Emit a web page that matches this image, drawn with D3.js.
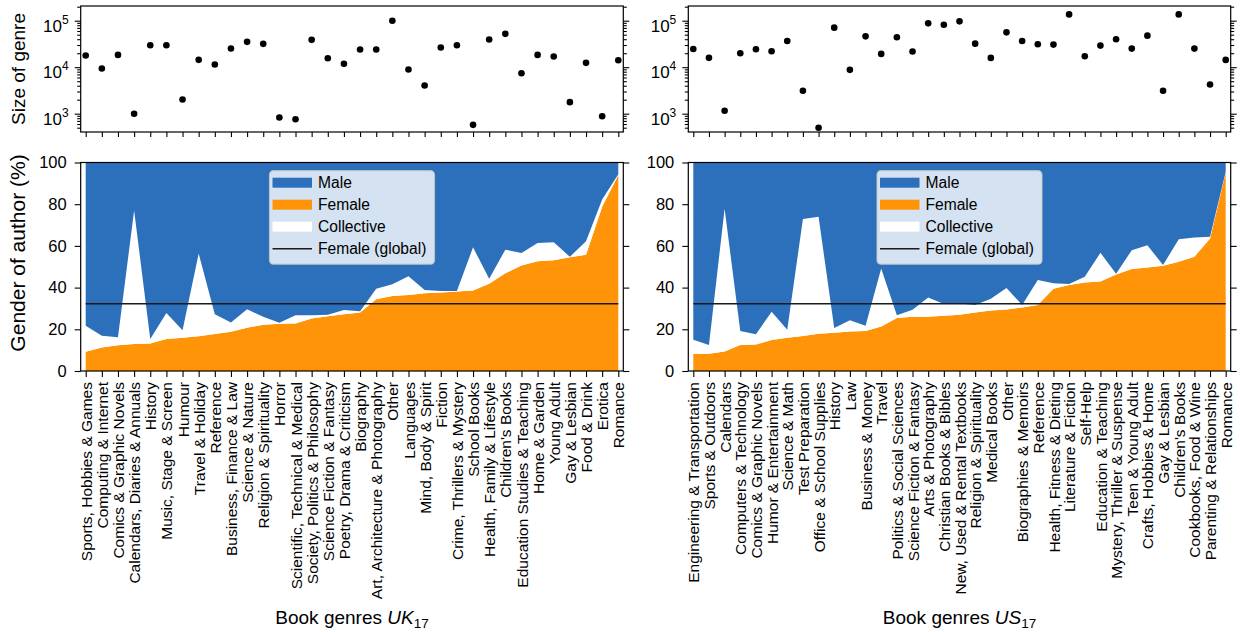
<!DOCTYPE html>
<html>
<head>
<meta charset="utf-8">
<script src="https://cdn.jsdelivr.net/npm/d3@7"></script>
<style>
  body { margin: 0; background: #fff; }
  svg { display: block; font-family: "Liberation Sans", Arial, sans-serif; }
</style>
</head>
<body>
<svg id="chart" width="1240" height="632"></svg>
<script>
// ---- UK 2017 genres (sorted by share of female authors) ----
const ukGenres = [
  "Sports, Hobbies & Games", "Computing & Internet", "Comics & Graphic Novels",
  "Calendars, Diaries & Annuals", "History", "Music, Stage & Screen", "Humour",
  "Travel & Holiday", "Reference", "Business, Finance & Law", "Science & Nature",
  "Religion & Spirituality", "Horror", "Scientific, Technical & Medical",
  "Society, Politics & Philosophy", "Science Fiction & Fantasy", "Poetry, Drama & Criticism",
  "Biography", "Art, Architecture & Photography", "Other", "Languages",
  "Mind, Body & Spirit", "Fiction", "Crime, Thrillers & Mystery", "School Books",
  "Health, Family & Lifestyle", "Children's Books", "Education Studies & Teaching",
  "Home & Garden", "Young Adult", "Gay & Lesbian", "Food & Drink", "Erotica", "Romance"
];
const ukFemale = [9.2, 11.3, 12.4, 12.9, 13.2, 15.4, 15.9, 16.7, 17.8, 18.8, 20.7, 22.2,
  22.7, 22.8, 25.2, 26.2, 27.2, 28.1, 34.4, 36.0, 36.5, 37.3, 37.6, 38.1, 38.6, 41.8,
  46.9, 50.6, 52.6, 53.1, 54.5, 55.8, 78.8, 94.0];
const ukCollective = [12.5, 5.6, 3.8, 64.1, 2.2, 12.4, 3.7, 39.6, 9.4, 4.5, 8.9, 3.8,
  0.5, 3.9, 1.5, 0.8, 2.1, 0.5, 5.1, 5.6, 9.0, 1.6, 0.8, 0.3, 20.7, 2.4,
  11.3, 6.0, 8.8, 8.6, 0.3, 6.4, 3.5, 0.4];
const ukSize = [17800, 9400, 18400, 1000, 29700, 29700, 2020, 14400, 11400, 25200, 35100, 31800,
  830, 760, 38700, 15600, 11800, 24000, 24000, 100000, 8910, 4030, 26500, 29700, 576, 39300,
  52100, 7430, 18400, 17000, 1770, 12400, 883, 14100];
const ukFemaleGlobal = 32.3;

// ---- US 2017 genres ----
const usGenres = [
  "Engineering & Transportation", "Sports & Outdoors", "Calendars", "Computers & Technology",
  "Comics & Graphic Novels", "Humor & Entertainment", "Science & Math", "Test Preparation",
  "Office & School Supplies", "History", "Law", "Business & Money", "Travel",
  "Politics & Social Sciences", "Science Fiction & Fantasy", "Arts & Photography",
  "Christian Books & Bibles", "New, Used & Rental Textbooks", "Religion & Spirituality",
  "Medical Books", "Other", "Biographies & Memoirs", "Reference", "Health, Fitness & Dieting",
  "Literature & Fiction", "Self-Help", "Education & Teaching", "Mystery, Thriller & Suspense",
  "Teen & Young Adult", "Crafts, Hobbies & Home", "Gay & Lesbian", "Children's Books",
  "Cookbooks, Food & Wine", "Parenting & Relationships", "Romance"
];
const usFemale = [8.3, 8.3, 9.4, 12.5, 12.7, 14.9, 15.9, 16.8, 17.9, 18.3, 19.0, 19.2, 21.4,
  25.4, 26.0, 26.0, 26.5, 27.0, 28.1, 29.0, 29.5, 30.5, 31.6, 39.5, 41.3, 42.5, 42.9, 46.3,
  48.9, 49.7, 50.5, 52.4, 54.8, 63.5, 95.2];
const usCollective = [6.7, 4.2, 68.4, 6.7, 4.9, 13.5, 3.9, 56.1, 56.1, 2.3, 5.4, 2.5, 27.8,
  1.3, 3.4, 9.2, 5.6, 5.4, 3.6, 5.6, 10.3, 1.2, 12.1, 2.6, 0.4, 2.7, 13.8, 0.4,
  9.0, 10.6, 0.3, 10.8, 9.2, 0.9, 0.4];
const usSize = [24700, 15900, 1160, 19950, 24300, 22000, 36700, 3110, 500, 70800, 8770, 46100,
  19300, 44000, 21700, 87700, 82100, 96800, 32100, 15850, 56200, 36700, 31100, 30600, 136700,
  17200, 29100, 39800, 25100, 47700, 3110, 136700, 25100, 4250, 14360];
const usFemaleGlobal = 32.3;

// ---- axis ticks and legend ----
const sizeTicks = [1e3, 1e4, 1e5];
const sizeDomain = [404, 207000];
const shareTicks = [0, 20, 40, 60, 80, 100];
const legendLabels = ["Male", "Female", "Collective", "Female (global)"];

const COLORS = { male: "#2c6fbb", female: "#ff9408", collective: "#ffffff" };
const TOP = { y0: 6, y1: 132 };
const BOT = { y0: 162.5, y1: 371 };
const PAD = 5;

const svg = d3.select("#chart");

function minorLogTicks(domain) {
  const out = [];
  for (let k = 2; k <= 5; k++) {
    for (let m = 2; m <= 9; m++) {
      const v = m * Math.pow(10, k);
      if (v >= domain[0] && v <= domain[1]) out.push(v);
    }
  }
  return out;
}

function styleAxis(g) {
  g.select(".domain").remove();
  g.selectAll(".tick line").attr("stroke", "#000").attr("stroke-width", 1.1);
  g.selectAll(".tick text").attr("fill", "#000");
}

function drawPanel(cfg) {
  const { left, right, genres, female, collective, sizes, femaleGlobal, region, showTitles } = cfg;
  const root = svg.append("g");

  const x = d3.scalePoint().domain(genres).range([left + PAD, right - PAD]);
  const ySize = d3.scaleLog().domain(sizeDomain).range([TOP.y1, TOP.y0]);
  const yPct = d3.scaleLinear().domain([0, 100]).range([BOT.y1, BOT.y0]);

  // ---------- top: size of each genre ----------
  root.append("g").selectAll("circle")
    .data(genres)
    .join("circle")
    .attr("cx", d => x(d))
    .attr("cy", (d, i) => ySize(sizes[i]))
    .attr("r", 3.3)
    .attr("fill", "#000");

  root.append("rect")
    .attr("x", left).attr("y", TOP.y0)
    .attr("width", right - left).attr("height", TOP.y1 - TOP.y0)
    .attr("fill", "none").attr("stroke", "#000").attr("stroke-width", 1.2);

  const topX = root.append("g").attr("transform", `translate(0,${TOP.y1})`)
    .call(d3.axisBottom(x).tickSize(5).tickFormat(""));
  styleAxis(topX);

  const minor = minorLogTicks(sizeDomain);
  const logL = root.append("g").attr("transform", `translate(${left},0)`)
    .call(d3.axisLeft(ySize).tickValues(sizeTicks).tickSize(6).tickPadding(6).tickFormat(""));
  styleAxis(logL);
  logL.selectAll(".tick text").each(function (d) {
    const t = d3.select(this);
    t.attr("text-anchor", "end").attr("dy", null).attr("y", 10.5)
      .style("font-size", "17px");
    t.append("tspan").text("10");
    t.append("tspan").attr("dy", -8).style("font-size", "12px").text(Math.round(Math.log10(d)));
  });
  const logLm = root.append("g").attr("transform", `translate(${left},0)`)
    .call(d3.axisLeft(ySize).tickValues(minor).tickSize(3.5).tickFormat(""));
  styleAxis(logLm);
  const logR = root.append("g").attr("transform", `translate(${right},0)`)
    .call(d3.axisRight(ySize).tickValues(sizeTicks).tickSize(6).tickFormat(""));
  styleAxis(logR);
  const logRm = root.append("g").attr("transform", `translate(${right},0)`)
    .call(d3.axisRight(ySize).tickValues(minor).tickSize(3.5).tickFormat(""));
  styleAxis(logRm);

  // ---------- bottom: gender shares, stacked ----------
  const rows = genres.map((g, i) => ({
    genre: g,
    female: female[i],
    collective: collective[i],
    male: 100 - female[i] - collective[i]
  }));
  const layers = d3.stack().keys(["female", "collective", "male"])(rows);
  const area = d3.area()
    .x(d => x(d.data.genre))
    .y0(d => yPct(d[0]))
    .y1(d => yPct(d[1]));

  root.append("g").selectAll("path")
    .data(layers)
    .join("path")
    .attr("fill", d => COLORS[d.key])
    .attr("d", area);

  const globalLine = d3.line().x(d => x(d)).y(() => yPct(femaleGlobal));
  root.append("path")
    .datum([genres[0], genres[genres.length - 1]])
    .attr("d", globalLine)
    .attr("fill", "none").attr("stroke", "#1a1a1a").attr("stroke-width", 1.5);

  root.append("rect")
    .attr("x", left).attr("y", BOT.y0)
    .attr("width", right - left).attr("height", BOT.y1 - BOT.y0)
    .attr("fill", "none").attr("stroke", "#000").attr("stroke-width", 1.2);

  const pctL = root.append("g").attr("transform", `translate(${left},0)`)
    .call(d3.axisLeft(yPct).tickValues(shareTicks).tickSize(6).tickPadding(8));
  styleAxis(pctL);
  pctL.selectAll(".tick text").style("font-size", "16.5px");
  const pctR = root.append("g").attr("transform", `translate(${right},0)`)
    .call(d3.axisRight(yPct).tickValues(shareTicks).tickSize(6).tickFormat(""));
  styleAxis(pctR);

  const botX = root.append("g").attr("transform", `translate(0,${BOT.y1})`)
    .call(d3.axisBottom(x).tickSize(6));
  styleAxis(botX);
  botX.selectAll(".tick text")
    .attr("transform", "rotate(-90)")
    .attr("text-anchor", "end")
    .attr("x", -11).attr("y", 0).attr("dy", "0.36em")
    .style("font-size", "15.5px");

  // ---------- legend (upper centre) ----------
  const lgW = 165, lgH = 93.5;
  const lgX = (left + right) / 2 - lgW / 2, lgY = 170.7;
  const lg = root.append("g").attr("transform", `translate(${lgX},${lgY})`);
  lg.append("rect")
    .attr("width", lgW).attr("height", lgH).attr("rx", 4)
    .attr("fill", "rgba(255,255,255,0.8)")
    .attr("stroke", "rgba(200,200,200,0.8)").attr("stroke-width", 1.2);
  const keys = ["male", "female", "collective", "line"];
  legendLabels.forEach((label, i) => {
    const cy = 12 + i * 22;
    if (keys[i] === "line") {
      lg.append("line").attr("x1", 3).attr("x2", 42.5).attr("y1", cy).attr("y2", cy)
        .attr("stroke", "#1a1a1a").attr("stroke-width", 1.5);
    } else {
      lg.append("rect").attr("x", 3).attr("y", cy - 5).attr("width", 39.5).attr("height", 10)
        .attr("fill", COLORS[keys[i]]);
    }
    lg.append("text").attr("x", 48.5).attr("y", cy).attr("dy", "0.36em")
      .style("font-size", "15.6px").attr("fill", "#000").text(label);
  });

  // ---------- titles ----------
  const title = root.append("text")
    .attr("x", (left + right) / 2).attr("y", 624)
    .attr("text-anchor", "middle").style("font-size", "19px").attr("fill", "#000");
  title.append("tspan").text("Book genres ");
  title.append("tspan").style("font-style", "italic").text(region);
  title.append("tspan").attr("dy", 4).style("font-size", "13.5px").text("17");

  if (showTitles) {
    root.append("text")
      .attr("transform", `translate(25,${(TOP.y0 + TOP.y1) / 2}) rotate(-90)`)
      .attr("text-anchor", "middle").style("font-size", "19px").attr("fill", "#000")
      .text("Size of genre");
    root.append("text")
      .attr("transform", `translate(25,253) rotate(-90)`)
      .attr("text-anchor", "middle").style("font-size", "21px").attr("fill", "#000")
      .text("Gender of author (%)");
  }
}

drawPanel({
  left: 80.7, right: 623.3,
  genres: ukGenres, female: ukFemale, collective: ukCollective, sizes: ukSize,
  femaleGlobal: ukFemaleGlobal, region: "UK", showTitles: true
});
drawPanel({
  left: 688.3, right: 1230.7,
  genres: usGenres, female: usFemale, collective: usCollective, sizes: usSize,
  femaleGlobal: usFemaleGlobal, region: "US", showTitles: false
});
</script>
</body>
</html>
